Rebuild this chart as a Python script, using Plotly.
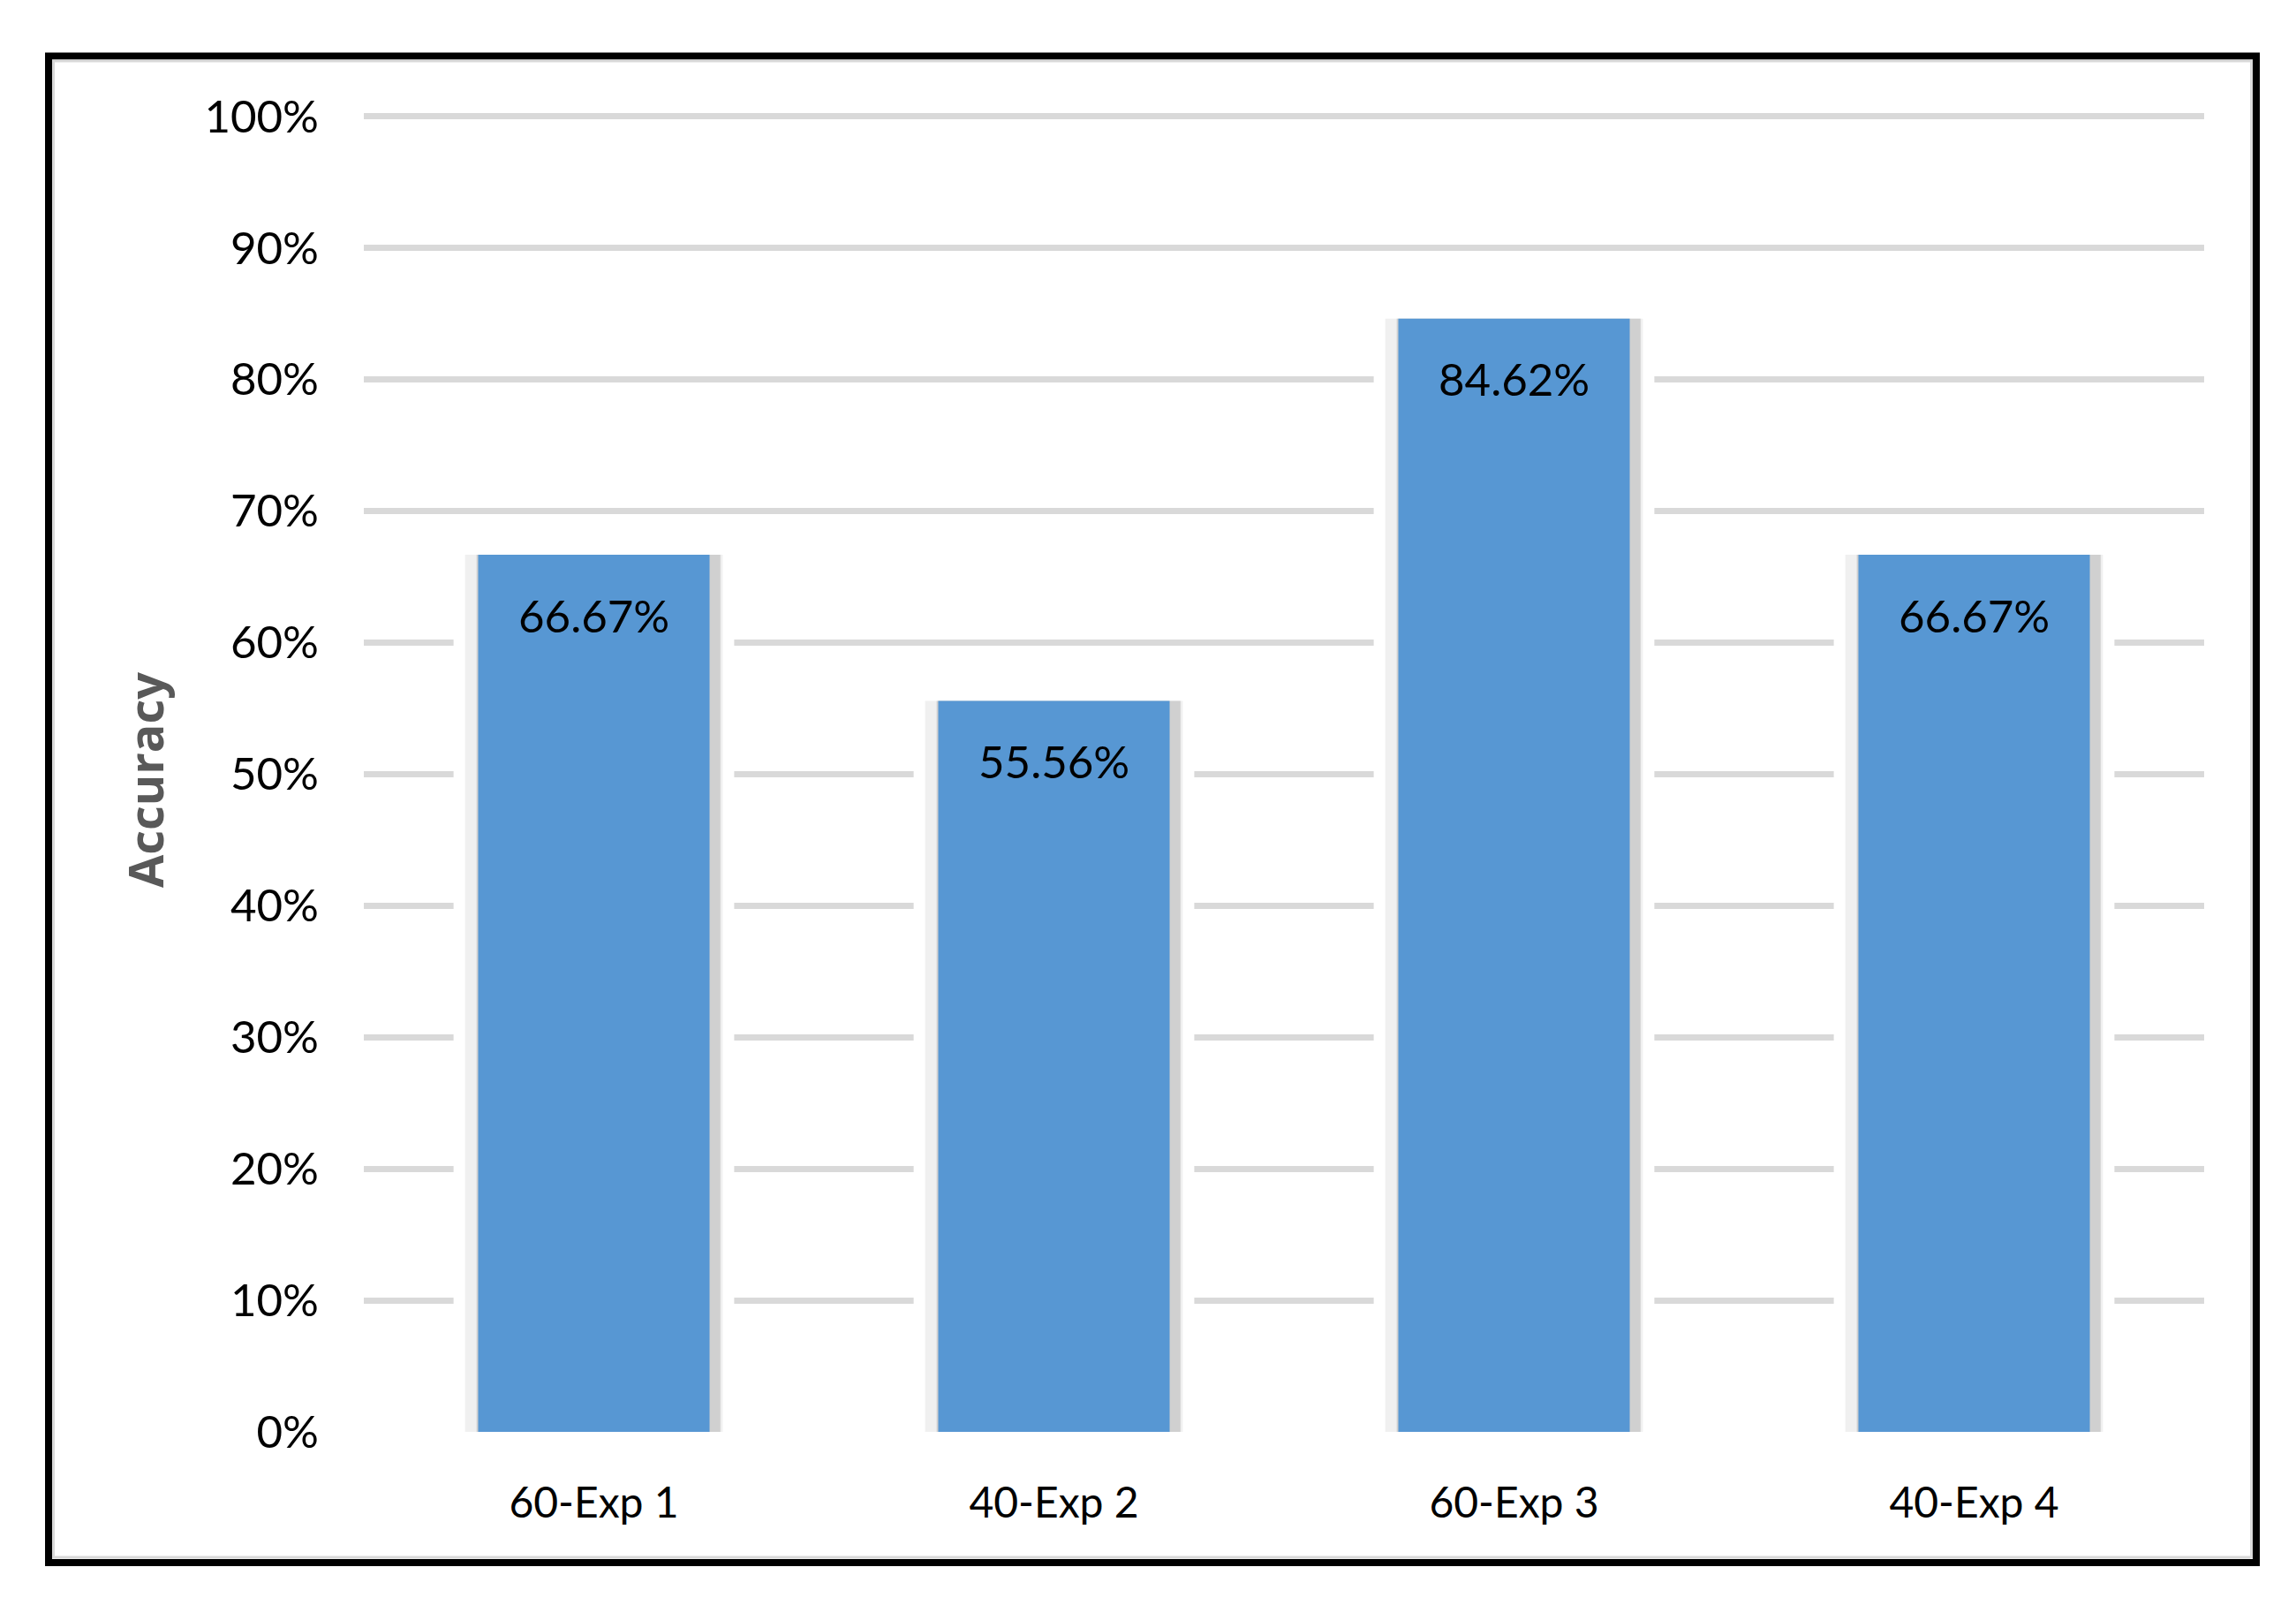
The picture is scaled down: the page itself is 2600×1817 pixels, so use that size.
import plotly.graph_objects as go

categories = ["60-Exp 1", "40-Exp 2", "60-Exp 3", "40-Exp 4"]
accuracy = [0.6667, 0.5556, 0.8462, 0.6667]
labels = ["66.67%", "55.56%", "84.62%", "66.67%"]
y_ticks = [0, 0.1, 0.2, 0.3, 0.4, 0.5, 0.6, 0.7, 0.8, 0.9, 1.0]

W, H = 2600, 1817
Y_TOP = 1.0025
L, R, B = 412, 104, 196
UNIT = 1489.5                      # pixels per 100%
T = int(round(H - B - UNIT * Y_TOP))
PW, PH = W - L - R, H - B - T

def px(x):
    return (x - L) / PW

def py(y):
    return (H - B - y) / PH

FONT = "Lato, Calibri, Carlito, sans-serif"

fig = go.Figure()
# white halo behind bars (interrupts gridlines)
fig.add_trace(go.Bar(x=categories, y=accuracy, width=0.61,
                     marker=dict(color="white", line=dict(width=0)),
                     hoverinfo="skip", showlegend=False))
# soft shadow layers
fig.add_trace(go.Bar(x=categories, y=accuracy, width=0.56,
                     marker=dict(color="#f0f0f0", line=dict(width=0)),
                     hoverinfo="skip", showlegend=False))
fig.add_trace(go.Bar(x=categories, y=accuracy, width=0.53,
                     marker=dict(color="#d0d0d0", line=dict(width=0)),
                     hoverinfo="skip", showlegend=False, offset=-0.255))
# main bars
fig.add_trace(go.Bar(x=categories, y=accuracy, width=0.503,
                     marker=dict(color="#5797d3", line=dict(width=0)),
                     showlegend=False))

for c, v, t in zip(categories, accuracy, labels):
    fig.add_annotation(x=c, y=v, text=t, showarrow=False, yanchor="middle",
                       yshift=-68, font=dict(family=FONT, size=51, color="black"))

fig.add_annotation(xref="paper", yref="paper", x=px(164), y=py(883), text="<b>Accuracy</b>",
                   textangle=-90, showarrow=False, xanchor="center", yanchor="middle",
                   font=dict(family="Open Sans, sans-serif", size=54, color="#595959"))

# outer border
fig.add_shape(type="rect", xref="paper", yref="paper",
              x0=px(55), x1=px(2555), y0=py(1769), y1=py(63.5),
              line=dict(color="black", width=8), layer="above")
fig.add_shape(type="rect", xref="paper", yref="paper",
              x0=px(60.5), x1=px(2549.5), y0=py(1763), y1=py(69),
              line=dict(color="#d9d9d9", width=3), layer="above")

fig.update_layout(
    width=W, height=H,
    margin=dict(l=L, r=R, t=T, b=B),
    paper_bgcolor="white", plot_bgcolor="white",
    barmode="overlay",
    font=dict(family=FONT, size=51, color="black"),
    xaxis=dict(showgrid=False, showline=False, zeroline=False, ticks="",
               ticklabelstandoff=48, tickfont=dict(family=FONT, size=48, color="black")),
    yaxis=dict(range=[0, Y_TOP], tickvals=y_ticks, tickformat=".0%",
               showgrid=True, gridcolor="#d9d9d9", gridwidth=7,
               zeroline=False, showline=False, ticks="",
               ticklabelstandoff=50, tickfont=dict(family=FONT, size=51, color="black")),
)

fig.write_html("out.html", config={"displayModeBar": False},
               post_script="document.body.style.margin='0';document.body.style.overflow='hidden';")
